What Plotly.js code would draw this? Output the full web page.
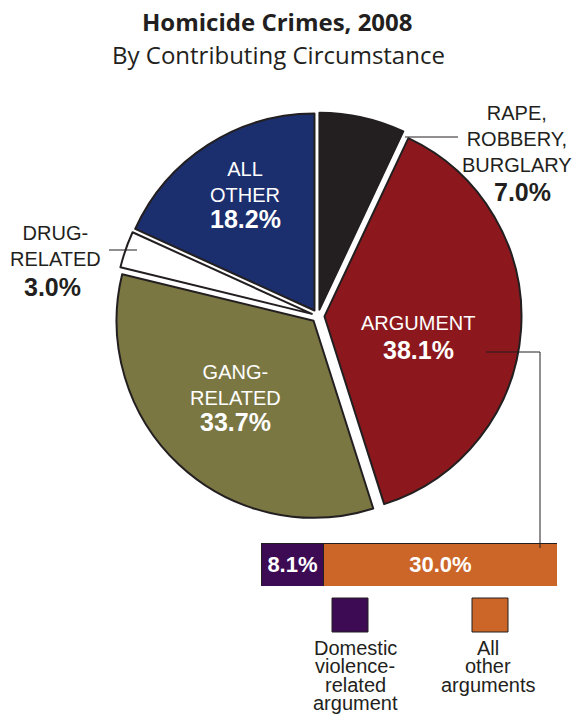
<!DOCTYPE html>
<html>
<head>
<meta charset="utf-8">
<script src="https://cdn.plot.ly/plotly-3.0.1.min.js"></script>
<style>html,body{margin:0;padding:0;background:#fff;}#chart{width:574px;height:715px;}</style>
</head>
<body>
<div id="chart"></div>
<script>
// ---- data ----
var categories = ['RAPE, ROBBERY, BURGLARY', 'ARGUMENT', 'GANG-RELATED', 'DRUG-RELATED', 'ALL OTHER'];
var shares = [7.0, 38.1, 33.7, 3.0, 18.2];
var labelLines = [['RAPE,', 'ROBBERY,', 'BURGLARY'], ['ARGUMENT'], ['GANG-', 'RELATED'], ['DRUG-', 'RELATED'], ['ALL', 'OTHER']];
var argumentParts = ['Domestic violence-related argument', 'All other arguments'];
var argumentShares = [8.1, 30.0];
var argumentLegendLines = [['Domestic', 'violence-', 'related', 'argument'], ['All', 'other', 'arguments']];
var titleText = 'Homicide Crimes, 2008';
var subtitleText = 'By Contributing Circumstance';

// ---- styles ----
var W = 574, H = 715;
function px(x) { return x / W; }
function py(y) { return 1 - y / H; }
var INK = '#231f20';
var sliceColors = ['#231f20', '#8c181d', '#7b7743', '#ffffff', '#1b2e6e'];
var partColors = ['#3d0a54', '#cc6628'];
var FONT = 'Liberation Sans, Arial, sans-serif';

var pie = {
  type: 'pie',
  labels: categories,
  values: shares,
  sort: false,
  direction: 'clockwise',
  rotation: 0,
  pull: [0.033, 0.033, 0.033, 0.033, 0.033],
  marker: { colors: sliceColors, line: { color: INK, width: 2 } },
  textinfo: 'none',
  hoverinfo: 'skip',
  showlegend: false,
  domain: { x: [px(114.5), px(521.5)], y: [py(519.5), py(112.5)] }
};

var bars = argumentParts.map(function (name, i) {
  return {
    type: 'bar',
    orientation: 'h',
    name: name,
    x: [argumentShares[i]],
    y: [0],
    width: 1,
    marker: { color: partColors[i], line: { color: INK, width: 1 } },
    text: [argumentShares[i].toFixed(1) + '%'],
    texttemplate: '<b>%{text}</b>',
    textposition: 'inside',
    insidetextanchor: 'middle',
    textfont: { family: FONT, size: 22, color: '#ffffff' },
    hoverinfo: 'skip',
    showlegend: false,
    xaxis: 'x', yaxis: 'y'
  };
});

// label positions (style)
var labelPos = [
  { x: 517, y: 139, px: 522, py: 192, color: INK },
  { x: 418, y: 323, px: 418, py: 350, color: '#ffffff' },
  { x: 235, y: 385, px: 235, py: 422, color: '#ffffff' },
  { x: 55, y: 246, px: 52, py: 287, color: INK },
  { x: 245, y: 182, px: 245, py: 219, color: '#ffffff' }
];

var annotations = [];
annotations.push({ x: px(277), y: py(21), xref: 'paper', yref: 'paper', text: '<b>' + titleText + '</b>', showarrow: false,
  font: { family: 'Open Sans, sans-serif', size: 24, color: INK }, xanchor: 'center', yanchor: 'middle' });
annotations.push({ x: px(278), y: py(55), xref: 'paper', yref: 'paper', text: subtitleText, showarrow: false,
  font: { family: 'Open Sans, sans-serif', size: 24, color: INK }, xanchor: 'center', yanchor: 'middle' });

categories.forEach(function (c, i) {
  var p = labelPos[i];
  annotations.push({ x: px(p.x), y: py(p.y), xref: 'paper', yref: 'paper', text: labelLines[i].join('<br>'), showarrow: false,
    font: { family: FONT, size: 20, color: p.color }, xanchor: 'center', yanchor: 'middle', align: 'center' });
  annotations.push({ x: px(p.px), y: py(p.py), xref: 'paper', yref: 'paper', text: '<b>' + shares[i].toFixed(1) + '%</b>', showarrow: false,
    font: { family: FONT, size: 25, color: p.color }, xanchor: 'center', yanchor: 'middle' });
});

var legendX = [355, 488];
var legendY0 = 648, legendDY = 18.3;
argumentLegendLines.forEach(function (lines, i) {
  lines.forEach(function (ln, j) {
    annotations.push({ x: px(legendX[i]), y: py(legendY0 + j * legendDY), xref: 'paper', yref: 'paper', text: ln, showarrow: false,
      font: { family: FONT, size: 20, color: INK }, xanchor: 'center', yanchor: 'middle' });
  });
});

var shapes = [
  { type: 'line', xref: 'paper', yref: 'paper', x0: px(405), y0: py(137), x1: px(458), y1: py(137), line: { color: INK, width: 1 } },
  { type: 'line', xref: 'paper', yref: 'paper', x0: px(109), y0: py(250), x1: px(137), y1: py(250), line: { color: INK, width: 1 } },
  { type: 'line', xref: 'paper', yref: 'paper', x0: px(486), y0: py(352), x1: px(540), y1: py(352), line: { color: INK, width: 1 } },
  { type: 'line', xref: 'paper', yref: 'paper', x0: px(540), y0: py(352), x1: px(540), y1: py(548), line: { color: INK, width: 1 } },
  { type: 'rect', xref: 'paper', yref: 'paper', x0: px(332), y0: py(632), x1: px(368), y1: py(598), fillcolor: partColors[0], line: { color: INK, width: 1 } },
  { type: 'rect', xref: 'paper', yref: 'paper', x0: px(472), y0: py(632), x1: px(508), y1: py(598), fillcolor: partColors[1], line: { color: INK, width: 1 } }
];

var total = argumentShares.reduce(function (a, b) { return a + b; }, 0);

var layout = {
  width: W, height: H,
  margin: { l: 0, r: 0, t: 0, b: 0 },
  paper_bgcolor: '#ffffff', plot_bgcolor: 'rgba(0,0,0,0)',
  barmode: 'stack',
  showlegend: false,
  xaxis: { domain: [px(261), px(557)], range: [0, total], visible: false, fixedrange: true },
  yaxis: { domain: [py(586), py(543)], range: [-0.5, 0.5], visible: false, fixedrange: true },
  annotations: annotations,
  shapes: shapes,
  font: { family: FONT }
};

Plotly.newPlot('chart', [pie].concat(bars), layout, { displayModeBar: false, staticPlot: true });
</script>
</body>
</html>
